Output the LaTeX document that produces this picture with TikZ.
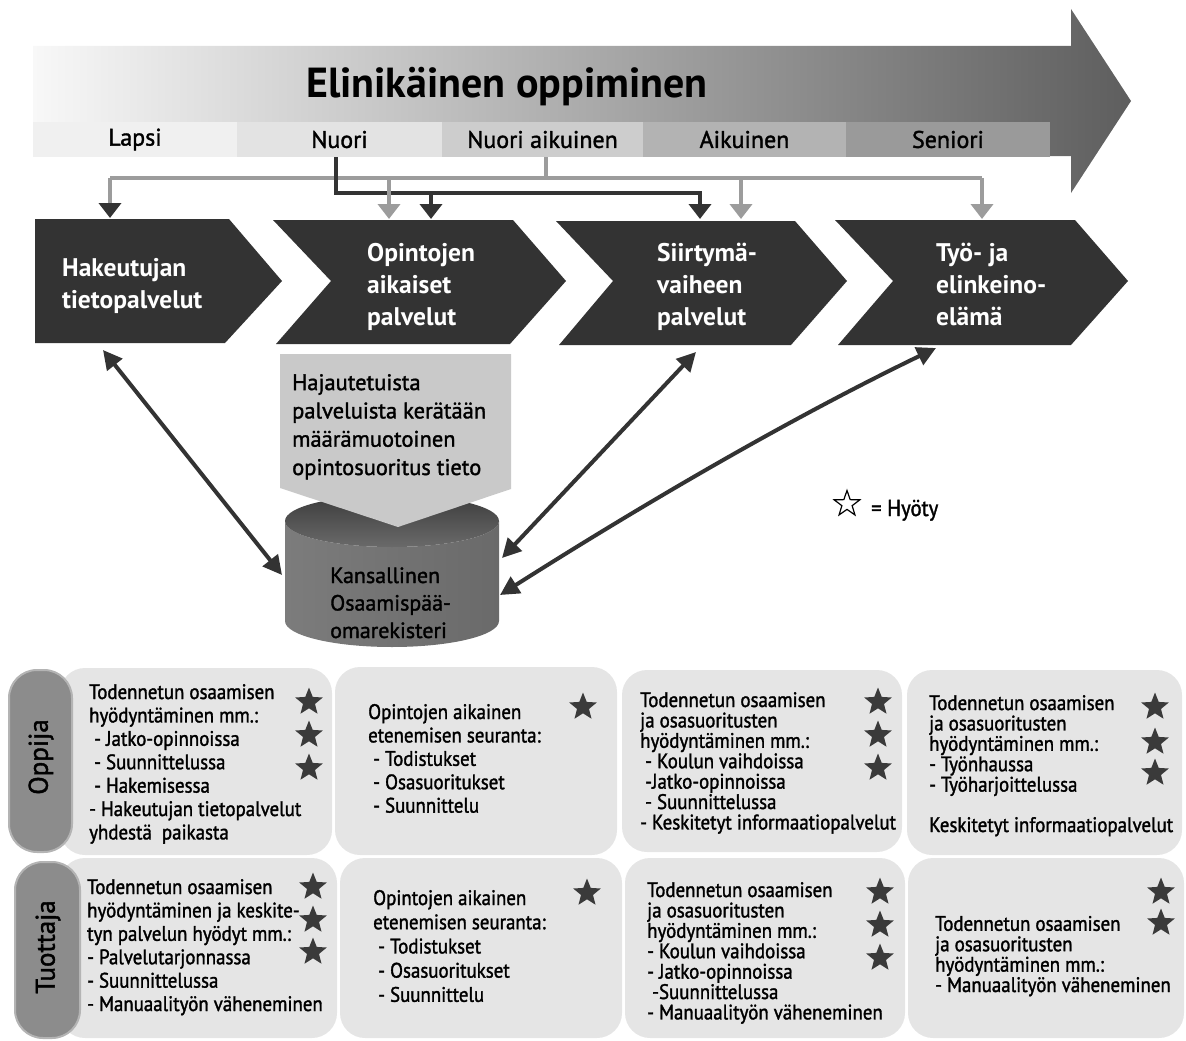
\documentclass[tikz,border=0pt]{standalone}
\usepackage{fontspec}
\setmainfont{PT Sans}
\newfontfamily\bodyf{PT Sans}[FakeStretch=0.9,FakeBold=1.5]
\newfontfamily\bodyw{PT Sans}[FakeBold=1.5]
\usetikzlibrary{arrows.meta,shapes.geometric}
\definecolor{chevc}{HTML}{333333}
\definecolor{darkc}{HTML}{333333}
\definecolor{grayc}{HTML}{9C9C9C}
\definecolor{boxc}{HTML}{E5E5E5}
\definecolor{tabc}{HTML}{8C8C8C}
\definecolor{tabedge}{HTML}{B4B4B4}
\definecolor{func}{HTML}{C9C9C9}
\definecolor{starc}{HTML}{3A3A3A}
\definecolor{arrL}{HTML}{F8F8F8}
\definecolor{arrR}{HTML}{5E5E5E}
\definecolor{bandA}{HTML}{F0F0F0}
\definecolor{bandB}{HTML}{E3E3E3}
\definecolor{bandC}{HTML}{CDCDCD}
\definecolor{bandD}{HTML}{B3B3B3}
\definecolor{bandE}{HTML}{9A9A9A}
\definecolor{cylL}{HTML}{7C7C7C}
\definecolor{cylM}{HTML}{B8B8B8}
\definecolor{cylR}{HTML}{6A6A6A}
\definecolor{cylT}{HTML}{3C3C3C}
\definecolor{cylB}{HTML}{6A6A6A}
\begin{document}
\begin{tikzpicture}[x=1pt,y=-1pt,
  band/.style={minimum height=35pt, inner sep=0, font=\bodyw\fontsize{24}{28}\selectfont},
  chevtext/.style={text=white, font=\bfseries\fontsize{25.5}{32}\selectfont, align=left, anchor=base west, inner sep=0},
  txt/.style={align=left, anchor=base west, inner sep=0},
  fnA/.style={font=\bodyf\fontsize{21}{23.4}\selectfont},
  fnB/.style={font=\bodyf\fontsize{21}{20.4}\selectfont},
  darkline/.style={draw=darkc, line width=4pt},
  grayline/.style={draw=grayc, line width=4pt},
  tipd/.style={-{Triangle[width=22pt,length=15pt]}},
  dbl/.style={darkline, {Triangle[width=19pt,length=19pt]}-{Triangle[width=19pt,length=19pt]}},
  starf/.style={star, star points=5, star point ratio=2.3, fill=starc, minimum size=29pt, inner sep=0},
  boxf/.style={fill=boxc, rounded corners=25pt},
  tabf/.style={fill=tabc, draw=tabedge, line width=2pt, rounded corners=28pt}
]
\useasboundingbox (0,0) rectangle (1186,1041);

% big arrow
\shade[left color=arrL, right color=arrR] (33,46) -- (1071,46) -- (1071,9) -- (1131,101) -- (1071,193) -- (1071,156) -- (33,156) -- cycle;
\node[anchor=base, font=\bfseries\fontsize{42}{50}\selectfont, inner sep=0] (title) at (507,97) {Elinikäinen oppiminen};

% bands
\node[band, fill=bandA, minimum width=204pt] (lapsi) at (135,139.5) {Lapsi};
\node[band, fill=bandB, minimum width=205pt] (nuori) at (339.5,139.5) {Nuori};
\node[band, fill=bandC, minimum width=201pt] (naik) at (542.5,139.5) {Nuori aikuinen};
\node[band, fill=bandD, minimum width=203pt] (aik) at (744.5,139.5) {Aikuinen};
\node[band, fill=bandE, minimum width=204pt] (sen) at (948,139.5) {Seniori};

% chevrons
\fill[chevc] (35,219) -- (229,219) -- (282,281) -- (225,343) -- (35,343) -- cycle;
\fill[chevc] (273,220) -- (513,220) -- (566,281) -- (510,344) -- (276,344) -- (331,281) -- cycle;
\fill[chevc] (556,221) -- (795,221) -- (847,281) -- (791,345) -- (559,345) -- (613,281) -- cycle;
\fill[chevc] (835,220) -- (1075,220) -- (1128,281) -- (1071,345) -- (838,345) -- (893,281) -- cycle;
\node[chevtext] (ch1) at (62,308) {Hakeutujan\\tietopalvelut};
\node[chevtext] (ch2) at (367,325) {Opintojen\\aikaiset\\palvelut};
\node[chevtext] (ch3) at (657,325) {Siirtymä-\\vaiheen\\palvelut};
\node[chevtext] (ch4) at (936,325) {Työ- ja\\elinkeino-\\elämä};

% connector targets
\coordinate (in1) at (110,218);
\coordinate (in2g) at (389,219);
\coordinate (in2d) at (431,219);
\coordinate (in3d) at (700,219);
\coordinate (in3g) at (741,219);
\coordinate (in4g) at (982,219);
\coordinate (gy) at (0,178);
\coordinate (dy) at (0,193);

% gray connectors
\draw[grayline] ([xshift=3pt]naik.south) -- ([xshift=3pt]naik.south |- gy);
\draw[grayline] (in1 |- gy) -- (in4g |- gy);
% dark connectors
\draw[darkline, tipd] ([xshift=-4pt]nuori.south) |- (in3d |- dy) -- (in3d);
\draw[darkline, tipd] (in2d |- dy) -- (in2d);
% gray drops
\draw[grayline, -{Triangle[width=22pt,length=15pt,color=darkc]}] (in1 |- gy) -- (in1);
\draw[grayline, tipd] (in2g |- gy) -- (in2g);
\draw[grayline, tipd] (in3g |- gy) -- (in3g);
\draw[grayline, tipd] (in4g |- gy) -- (in4g);

% cylinder
\shade[left color=cylL, middle color=cylM, right color=cylR] (285,521) -- (285,621) arc[start angle=180,end angle=360,x radius=107pt,y radius=26pt] -- (499,521) arc[start angle=0,end angle=-180,x radius=107pt,y radius=26pt] -- cycle;
\shade[top color=cylT, bottom color=cylB] (392,521) ellipse [x radius=107pt, y radius=26pt];
\fill[func] (280,354) -- (511,354) -- (511,489) -- (398,527) -- (280,488) -- cycle;
\node[txt, font=\bodyw\fontsize{22.5}{28.3}\selectfont] (fun) at (292,475) {Hajautetuista\\palveluista kerätään\\määrämuotoinen\\opintosuoritus tieto};
\node[txt, font=\bodyw\fontsize{22}{27.5}\selectfont] (db) at (330,638) {Kansallinen\\Osaamispää-\\omarekisteri};

% double arrows
\coordinate (e1) at (103,350);
\coordinate (d1) at (282,575);
\coordinate (e3) at (696,352);
\coordinate (d3) at (502,558);
\coordinate (e4) at (936,348);
\coordinate (d4) at (500,595);
\draw[dbl] (e1) -- (d1);
\draw[dbl] (e3) -- (d3);
\draw[dbl] (d4) .. controls (645,503) and (791,418) .. (e4);

% legend
\node[star, star points=5, star point ratio=2.5, draw=black, fill=white, line width=1.2pt, minimum size=27pt, inner sep=0] (lgs) at (847,504) {};
\node[anchor=base west, inner sep=0, font=\bodyf\fontsize{23}{26}\selectfont] (lgt) at (871,516) {= Hyöty};

% bottom boxes
\fill[boxf] (60,668) rectangle (332,855);
\fill[boxf] (335,667) rectangle (617,855);
\fill[boxf] (622,670) rectangle (902,852);
\fill[boxf] (907,670) rectangle (1182,855);
\fill[boxf] (60,858) rectangle (337,1038);
\fill[boxf] (340,858) rectangle (622,1038);
\fill[boxf] (625,858) rectangle (905,1038);
\fill[boxf] (908,858) rectangle (1184,1038);

\filldraw[tabf] (9,670) rectangle (72,852);
\filldraw[tabf] (15,862) rectangle (80,1038);
\node[rotate=90, font=\bodyw\fontsize{27}{30}\selectfont, inner sep=0] (oppija) at (41,757) {Oppija};
\node[rotate=90, font=\bodyw\fontsize{27}{30}\selectfont, inner sep=0] (tuottaja) at (48,947) {Tuottaja};

% texts row 1
\node[txt, fnA] (t11) at (89,839.4) {Todennetun osaamisen\\hyödyntäminen mm.:\\\ - Jatko-opinnoissa\\\ - Suunnittelussa\\\ - Hakemisessa\\- Hakeutujan tietopalvelut\\yhdestä\ \ paikasta};
\node[txt, fnA] (t12) at (368,812.6) {Opintojen aikainen\\etenemisen seuranta:\\\ - Todistukset\\\ - Osasuoritukset\\\ - Suunnittelu};
\node[txt, fnB] (t13) at (640,829.4) {Todennetun osaamisen\\ja osasuoritusten\\hyödyntäminen mm.:\\\ - Koulun vaihdoissa\\\ -Jatko-opinnoissa\\\ - Suunnittelussa\\- Keskitetyt informaatiopalvelut};
\node[txt, fnB] (t14) at (929,832) {Todennetun osaamisen\\ja osasuoritusten\\hyödyntäminen mm.:\\- Työnhaussa\\- Työharjoittelussa\\[20pt]Keskitetyt informaatiopalvelut};
% texts row 2
\node[txt, fnA] (t21) at (87,1011) {Todennetun osaamisen\\hyödyntäminen ja keskite-\\tyn palvelun hyödyt mm.:\\- Palvelutarjonnassa\\- Suunnittelussa\\- Manuaalityön väheneminen};
\node[txt, font=\bodyf\fontsize{21}{24.2}\selectfont] (t22) at (373,1001.8) {Opintojen aikainen\\etenemisen seuranta:\\\ - Todistukset\\\ - Osasuoritukset\\\ - Suunnittelu};
\node[txt, fnB] (t23) at (647,1019.4) {Todennetun osaamisen\\ja osasuoritusten\\hyödyntäminen mm.:\\- Koulun vaihdoissa\\- Jatko-opinnoissa\\\ -Suunnittelussa\\- Manuaalityön väheneminen};
\node[txt, fnB] (t24) at (935,992) {Todennetun osaamisen\\ja osasuoritusten\\hyödyntäminen mm.:\\- Manuaalityön väheneminen};

% stars
\foreach \n/\p in {s1/{309,702}, s2/{309,735}, s3/{309,768}, s4/{583,707}, s5/{878,702}, s6/{878,735}, s7/{878,768}, s8/{1155,707}, s9/{1155,742}, s10/{1155,773}, s11/{313,887}, s12/{313,920}, s13/{313,952}, s14/{587,893}, s15/{880,892}, s16/{880,925}, s17/{880,958}, s18/{1161,892}, s19/{1161,923}}
  \node[starf] (\n) at (\p) {};
\end{tikzpicture}
\end{document}
